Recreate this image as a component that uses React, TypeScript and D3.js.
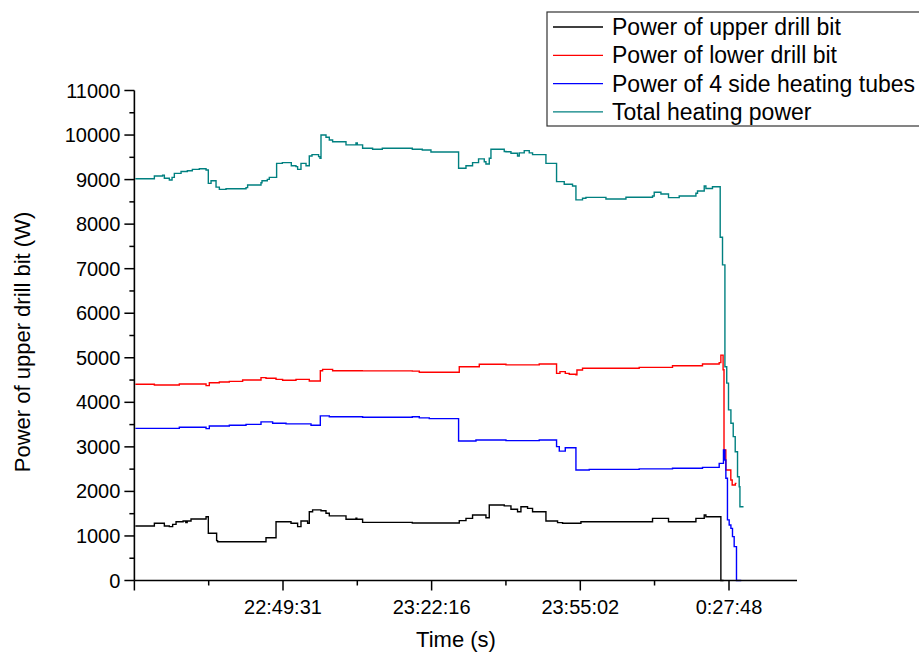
import React from "react";
import * as d3 from "d3";

// Time is given in minutes after 22:00:00 (values past 120 are after midnight)
const upperDrillBit: [number, number][] = [
  [16.98, 1225], [21.17, 1285], [23.37, 1225], [24.47, 1210], [25.2, 1260], [25.95, 1320],
  [27.5, 1335], [28.1, 1300], [28.4, 1335], [29.25, 1380], [32.56, 1430], [33.06, 1060],
  [34.89, 895], [35.11, 870], [45.77, 960], [47.98, 1320], [51.28, 1285], [52.74, 1210],
  [53.48, 1335], [54.94, 1285], [55.31, 1545], [56.04, 1585], [57.89, 1565], [58.99, 1510],
  [59.72, 1450], [63.4, 1375], [65.6, 1400], [65.78, 1375], [67.06, 1305], [78.01, 1290],
  [88.36, 1345], [89.84, 1395], [91.29, 1470], [94.24, 1410], [94.97, 1695], [98.27, 1675],
  [99.75, 1600], [101.2, 1545], [101.95, 1655], [103.41, 1620], [104.51, 1545], [107.46, 1335],
  [110.02, 1300], [111.12, 1285], [115.17, 1320], [130.95, 1395], [134.47, 1320], [140.51, 1395],
  [142.34, 1470], [142.71, 1430], [146.01, 0], [146.6, 0],
];

const lowerDrillBit: [number, number][] = [
  [16.98, 4405], [21.17, 4390], [26.67, 4410], [32.56, 4375], [33.28, 4440], [35.49, 4455],
  [37.69, 4470], [40.62, 4500], [44.67, 4555], [45.77, 4540], [47.98, 4515], [49.43, 4495],
  [52.38, 4515], [55.31, 4480], [57.74, 4710], [58.24, 4740], [60.45, 4710], [66.99, 4705],
  [78.01, 4700], [79.55, 4675], [88.36, 4800], [92.77, 4855], [98.65, 4840], [105.98, 4860],
  [109.8, 4650], [110.55, 4690], [111.72, 4650], [112.6, 4630], [114.07, 4615], [114.29, 4725],
  [115.52, 4765], [128.01, 4785], [135.35, 4820], [141.96, 4860], [145.64, 4890], [146.01, 5060],
  [146.5, 4730], [146.7, 2930], [147.1, 2480], [148.2, 2255], [148.5, 2145], [149.2, 2180],
  [149.45, 2180],
];

const sideHeatingTubes: [number, number][] = [
  [16.98, 3415], [26.67, 3440], [32.56, 3410], [33.28, 3470], [37.69, 3485], [41.37, 3505],
  [44.67, 3560], [47.23, 3530], [50.18, 3515], [55.69, 3485], [57.74, 3695], [59.72, 3675],
  [67.06, 3665], [78.01, 3675], [79.55, 3650], [81.75, 3635], [88.21, 3130], [92.04, 3155],
  [98.65, 3140], [105.98, 3155], [109.8, 3005], [110.4, 2905], [111.72, 2980], [114.07, 2480],
  [117.0, 2495], [128.01, 2505], [135.35, 2520], [141.96, 2540], [145.64, 2630], [146.58, 2930],
  [146.89, 2705], [147.11, 2295], [147.46, 1360], [147.84, 1245], [148.22, 1170], [148.57, 985],
  [148.94, 760], [149.45, 0], [150.5, 0],
];

const totalPower: [number, number][] = [
  [16.98, 9020], [21.17, 9080], [22.99, 9100], [23.37, 9030], [24.47, 8990], [25.07, 9050],
  [25.57, 9140], [27.05, 9180], [28.44, 9200], [29.54, 9230], [31.08, 9245], [32.56, 9215],
  [33.06, 8915], [33.66, 8975], [34.76, 8830], [35.49, 8780], [36.96, 8795], [41.37, 8820],
  [41.72, 8880], [44.67, 8930], [44.89, 8975], [46.06, 9005], [46.5, 9050], [48.11, 9365],
  [49.37, 9380], [51.35, 9310], [52.38, 9290], [52.74, 9230], [53.48, 9365], [54.59, 9310],
  [55.31, 9530], [55.91, 9560], [57.36, 9515], [57.67, 9480], [57.89, 10000], [58.99, 9950],
  [59.72, 9890], [60.45, 9850], [63.4, 9780], [65.6, 9820], [65.9, 9780], [67.06, 9705],
  [69.26, 9680], [71.4, 9705], [78.01, 9680], [80.21, 9665], [82.12, 9620], [88.21, 9255],
  [89.84, 9310], [91.29, 9380], [92.61, 9465], [93.87, 9400], [94.24, 9350], [94.97, 9480],
  [95.34, 9680], [98.27, 9630], [98.65, 9625], [99.75, 9590], [101.2, 9530], [101.58, 9600],
  [102.68, 9650], [103.78, 9600], [104.51, 9560], [107.46, 9365], [109.8, 8955], [111.49, 8895],
  [113.32, 8855], [114.07, 8545], [115.52, 8580], [116.27, 8600], [120.68, 8565], [125.09, 8605],
  [130.95, 8630], [131.32, 8715], [132.8, 8675], [134.47, 8595], [136.83, 8630], [140.51, 8695],
  [140.86, 8745], [142.34, 8855], [142.71, 8800], [144.16, 8840], [145.86, 7705], [146.37, 7085],
  [146.9, 4800], [147.3, 4430], [147.69, 3830], [148.22, 3530], [148.73, 3230], [149.17, 2890],
  [149.68, 2330], [150.05, 2105], [150.21, 1655], [151.0, 1655],
];

const seriesNames = [
  "Power of upper drill bit",
  "Power of lower drill bit",
  "Power of 4 side heating tubes",
  "Total heating power",
];
const seriesColors = ["#000000", "#ff0000", "#0000ff", "#008080"];
const seriesData = [upperDrillBit, lowerDrillBit, sideHeatingTubes, totalPower];

const xTickLabels = ["22:49:31", "23:22:16", "23:55:02", "0:27:48"];
const yMajorTicks = [0, 1000, 2000, 3000, 4000, 5000, 6000, 7000, 8000, 9000, 10000, 11000];

const xTitle = "Time (s)";
const yTitle = "Power of upper drill bit (W)";

function clockToMinutes(s: string): number {
  const [h, m, sec] = s.split(":").map(Number);
  const hh = h < 12 ? h + 24 : h;
  return (hh - 22) * 60 + m + sec / 60;
}

export default function App() {
  const W = 919;
  const H = 653;
  const font = "Arial, 'Liberation Sans', sans-serif";

  const labelMinutes = xTickLabels.map(clockToMinutes);
  const step = labelMinutes[1] - labelMinutes[0];
  const x = d3
    .scaleLinear()
    .domain([labelMinutes[0], labelMinutes[3]])
    .range([283, 729]);
  const xStart = labelMinutes[0] - step;
  const xEnd = x.invert(797);
  const y = d3.scaleLinear().domain([0, 11000]).range([580.5, 90.5]);

  const x0 = x(xStart);
  const y0 = y(0);

  const majorX: number[] = [xStart, ...labelMinutes];
  const minorX: number[] = [];
  for (let t = xStart + step / 2; t < xEnd; t += step) minorX.push(t);
  const minorY: number[] = d3.range(500, 11000, 1000);

  const line = d3
    .line<[number, number]>()
    .x((d) => x(d[0]))
    .y((d) => y(d[1]))
    .curve(d3.curveStepAfter);

  const legendX = 547;
  const legendY = 12;
  const rowH = 28.3;

  return (
    <svg
      width={W}
      height={H}
      style={{ position: "absolute", left: 0, top: 0, background: "#fff" }}
      fontFamily={font}
    >
      <rect x={0} y={0} width={W} height={H} fill="#fff" />
      {/* series */}
      {seriesData.map((d, i) => (
        <path
          key={seriesNames[i]}
          d={line(d) || ""}
          fill="none"
          stroke={seriesColors[i]}
          strokeWidth={1.4}
        />
      ))}

      {/* axes */}
      <line x1={x0} x2={x0} y1={y(11000)} y2={y0} stroke="#000" strokeWidth={1.6} />
      <line x1={x0} x2={797} y1={y0} y2={y0} stroke="#000" strokeWidth={1.6} />

      {yMajorTicks.map((v) => (
        <g key={"ym" + v}>
          <line x1={x0 - 10} x2={x0} y1={y(v)} y2={y(v)} stroke="#000" strokeWidth={1.5} />
          <text
            x={x0 - 14}
            y={y(v)}
            textAnchor="end"
            dominantBaseline="central"
            fontSize={20}
            fill="#000"
          >
            {v}
          </text>
        </g>
      ))}
      {minorY.map((v) => (
        <line key={"yn" + v} x1={x0 - 5} x2={x0} y1={y(v)} y2={y(v)} stroke="#000" strokeWidth={1.5} />
      ))}

      {majorX.map((t, i) => (
        <line key={"xm" + i} x1={x(t)} x2={x(t)} y1={y0} y2={y0 + 10} stroke="#000" strokeWidth={1.5} />
      ))}
      {minorX.map((t, i) => (
        <line key={"xn" + i} x1={x(t)} x2={x(t)} y1={y0} y2={y0 + 5} stroke="#000" strokeWidth={1.5} />
      ))}
      {labelMinutes.map((t, i) => (
        <text
          key={"xl" + i}
          x={x(t)}
          y={607}
          textAnchor="middle"
          dominantBaseline="central"
          fontSize={20}
          fill="#000"
        >
          {xTickLabels[i]}
        </text>
      ))}

      {/* titles */}
      <text x={456} y={639} textAnchor="middle" dominantBaseline="central" fontSize={22} fill="#000">
        {xTitle}
      </text>
      <text
        transform={`translate(22, 342) rotate(-90)`}
        textAnchor="middle"
        dominantBaseline="central"
        fontSize={22}
        fill="#000"
      >
        {yTitle}
      </text>

      {/* legend */}
      <rect
        x={legendX}
        y={legendY}
        width={W - legendX + 10}
        height={114}
        fill="#fff"
        stroke="#333"
        strokeWidth={1.2}
      />
      {seriesNames.map((name, i) => {
        const cy = legendY + 15 + i * rowH;
        return (
          <g key={"lg" + i}>
            <line x1={553} x2={603} y1={cy} y2={cy} stroke={seriesColors[i]} strokeWidth={1.3} />
            <text x={612} y={cy} dominantBaseline="central" fontSize={23} fill="#000">
              {name}
            </text>
          </g>
        );
      })}
    </svg>
  );
}
